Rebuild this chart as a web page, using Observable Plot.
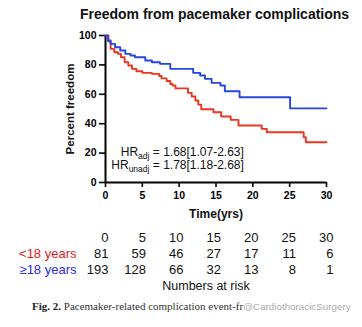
<!DOCTYPE html>
<html>
<head>
<meta charset="utf-8">
<script src="https://cdn.jsdelivr.net/npm/d3@7"></script>
<script src="https://cdn.jsdelivr.net/npm/@observablehq/plot@0.6"></script>
<style>
  html, body { margin: 0; padding: 0; background: #fff; }
  body { width: 362px; height: 327px; overflow: hidden; position: relative;
         font-family: "Liberation Sans", Arial, Helvetica, sans-serif; }
  #main { position: absolute; left: 0; top: 0; }
  #risk { position: absolute; left: 0; top: 222px; }
  #caption { position: absolute; left: 32px; top: 300px; font-size: 11px; white-space: nowrap;
             font-family: "Liberation Serif", "DejaVu Serif", serif; color: #333; }
  #caption b { color: #222; }
  #caption .wm { color: #aaa; font-family: "Liberation Sans", Arial, sans-serif; font-size: 9.8px; }
</style>
</head>
<body>
<div id="main"></div>
<div id="risk"></div>
<div id="caption"><b>Fig. 2.</b> Pacemaker-related complication event-fr<span class="wm">@CardiothoracicSurgery</span></div>
<script>
// ---- data ----
const titleText = "Freedom from pacemaker complications";
const xLabel = "Time(yrs)";
const yLabel = "Percent freedom";
const xTicks = [0, 5, 10, 15, 20, 25, 30];
const yTicks = [0, 20, 40, 60, 80, 100];

// <18 years (red)
const timeUnder18 = [0, 0.4, 0.7, 1.2, 1.7, 2.1, 2.6, 3.1, 3.6, 4.2, 5.0, 6.3, 7.3, 7.6, 8.3, 8.8, 9.1, 9.5, 11.2, 11.7, 12.2, 12.6, 13.0, 14.65, 15.7, 17.0, 18.05, 21.2, 21.9, 26.9, 27.2, 30];
const survUnder18 = [100, 95.8, 90.9, 88.6, 87.5, 85.2, 81.8, 79.6, 77.3, 75.7, 74.6, 73.9, 72.5, 70.8, 69.0, 67.0, 66.0, 64.0, 61.0, 58.5, 55.8, 53.0, 49.8, 47.8, 44.9, 42.6, 38.8, 36.5, 34.2, 30.8, 27.4, 27.4];

// >=18 years (blue)
const timeOver18 = [0, 0.3, 0.7, 1.3, 2.0, 2.7, 3.4, 4.0, 5.4, 6.3, 7.4, 8.8, 11.9, 12.85, 13.5, 14.4, 15.6, 16.2, 18.2, 25.06, 30];
const survOver18 = [100, 96.6, 94.3, 92.0, 89.8, 87.5, 86.4, 85.2, 83.0, 81.8, 80.7, 77.3, 74.6, 72.8, 70.5, 67.8, 66.0, 62.1, 58.0, 50.4, 50.4];

const hrLines = [["adj", " = 1.68[1.07-2.63]"], ["unadj", " = 1.78[1.18-2.68]"]];

// numbers at risk
const riskTimes = [0, 5, 10, 15, 20, 25, 30];
const riskUnder18 = [81, 59, 46, 27, 17, 11, 6];
const riskOver18 = [193, 128, 66, 32, 13, 8, 1];
const groupLabels = ["<18 years", "\u226518 years"];
const footerText = "Numbers at risk";

// ---- styles ----
const lineColors = ["#e8381f", "#2547e0"];
const labelColors = ["#e01c1c", "#2a2af2"];
const font = "'Liberation Sans', Arial, Helvetica, sans-serif";

const red = timeUnder18.map((t, i) => ({t, s: survUnder18[i]}));
const blue = timeOver18.map((t, i) => ({t, s: survOver18[i]}));

const chart = Plot.plot({
  width: 362, height: 222,
  marginLeft: 105, marginRight: 36, marginTop: 35, marginBottom: 40,
  style: {fontFamily: font, background: "transparent", color: "#000", overflow: "visible", fontWeight: "bold"},
  x: {domain: [0, 30]},
  y: {domain: [0, 100]},
  marks: [
    Plot.axisX({ticks: xTicks, tickSize: 5, tickPadding: 4, fontSize: 10.5, fontWeight: "bold", label: null, strokeWidth: 1.6}),
    Plot.axisY({ticks: yTicks, tickSize: 6, tickPadding: 3, fontSize: 10.5, fontWeight: "bold", label: null, strokeWidth: 1.6}),
    Plot.ruleX([0], {stroke: "#000", strokeWidth: 2}),
    Plot.ruleY([0], {stroke: "#000", strokeWidth: 2}),
    Plot.line(red, {x: "t", y: "s", curve: "step-after", stroke: lineColors[0], strokeWidth: 1.9}),
    Plot.line(blue, {x: "t", y: "s", curve: "step-after", stroke: lineColors[1], strokeWidth: 1.9}),
    Plot.text([titleText], {frameAnchor: "top", lineAnchor: "middle", textAnchor: "middle", dx: -1.5, dy: -21, fontSize: 14, fontWeight: "bold", fill: "#111"}),
    Plot.text([xLabel], {frameAnchor: "bottom", lineAnchor: "middle", textAnchor: "middle", dy: 32, fontSize: 12, fontWeight: "bold", fill: "#111"}),
    Plot.text([yLabel], {frameAnchor: "left", lineAnchor: "middle", textAnchor: "middle", dx: -35, rotate: -90, fontSize: 11.5, fontWeight: "bold", fill: "#111"})
  ]
});

// HR annotation with subscripts
{
  const xs = chart.scale("x"), ys = chart.scale("y");
  const g = d3.select(chart).append("g")
    .attr("font-family", font).attr("font-size", 12).attr("font-weight", "normal")
    .attr("text-anchor", "end").attr("fill", "#111");
  const hrX = 18.85, hrY = [17.5, 8.9];
  hrLines.forEach(([sub, rest], i) => {
    const t = g.append("text").attr("x", xs.apply(hrX)).attr("y", ys.apply(hrY[i]));
    t.append("tspan").text("HR");
    t.append("tspan").attr("font-size", 8.5).attr("dy", 3).text(sub);
    t.append("tspan").attr("dy", -3).text(rest);
  });
}
document.getElementById("main").appendChild(chart);

// numbers-at-risk table
const rows = ["header", groupLabels[0], groupLabels[1], "footer"];
const idx = riskTimes.map((d, i) => i);
const table = Plot.plot({
  width: 362, height: 80,
  marginLeft: 108, marginRight: 29, marginTop: 0, marginBottom: 0,
  style: {fontFamily: font, background: "transparent", color: "#111", overflow: "visible"},
  x: {domain: [0, 30], axis: null},
  y: {type: "point", domain: rows, range: [13.8, 63.8], padding: 0, axis: null},
  marks: [
    Plot.text(idx, {x: i => riskTimes[i], y: () => "header", text: i => String(riskTimes[i]), textAnchor: "end", fontSize: 13, fill: "#111"}),
    Plot.text(idx, {x: i => riskTimes[i], y: () => groupLabels[0], text: i => String(riskUnder18[i]), textAnchor: "end", fontSize: 13, fill: "#111"}),
    Plot.text(idx, {x: i => riskTimes[i], y: () => groupLabels[1], text: i => String(riskOver18[i]), textAnchor: "end", fontSize: 13, fill: "#111"}),
    Plot.text([groupLabels[0]], {frameAnchor: "left", y: d => d, dx: -32, textAnchor: "end", fontSize: 13, fill: labelColors[0]}),
    Plot.text([groupLabels[1]], {frameAnchor: "left", y: d => d, dx: -32, textAnchor: "end", fontSize: 13, fill: labelColors[1]}),
    Plot.text([footerText], {x: () => 13.0, y: () => "footer", textAnchor: "middle", fontSize: 12.5, fill: "#111"})
  ]
});
document.getElementById("risk").appendChild(table);
</script>
</body>
</html>
